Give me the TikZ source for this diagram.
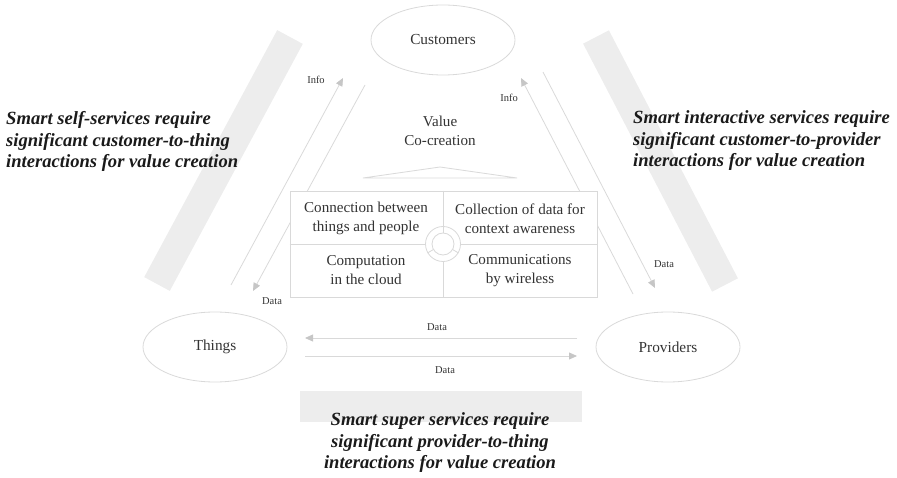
\documentclass[tikz,border=0pt]{standalone}
\usepackage{fontspec}
\setmainfont{Liberation Serif}
\usetikzlibrary{shapes.geometric, arrows.meta}
\definecolor{barc}{HTML}{EDEDED}
\definecolor{linec}{HTML}{D9D9D9}
\definecolor{headc}{HTML}{C6C6C6}
\definecolor{txtc}{HTML}{333333}
\definecolor{boldc}{HTML}{1A1A1A}
\begin{document}
\begin{tikzpicture}[x=1pt,y=-1pt,
  conn/.style={draw=linec, line width=0.8pt, -{Triangle[length=8pt,width=7pt,color=headc]}},
  ell/.style={ellipse, draw=linec, line width=0.8pt, minimum width=144pt, minimum height=70pt, inner sep=0pt, font=\fontsize{15.3}{18}\selectfont, text=txtc},
  small/.style={font=\fontsize{10.5}{12}\selectfont, text=txtc, inner sep=0pt},
  cell/.style={font=\fontsize{15.1}{19}\selectfont, text=txtc, align=center, inner sep=0pt},
  claim/.style={font=\fontsize{18.6}{21.5}\selectfont\bfseries\itshape, text=boldc, inner sep=0pt},
  thin/.style={draw=linec, line width=0.8pt}]
\useasboundingbox (0,0) rectangle (897,478);
% grey bars
\fill[barc] (277.2,30.1) -- (302.8,43.9) -- (169.8,290.9) -- (144.2,277.1) -- cycle;
\fill[barc] (583.1,43.7) -- (608.9,30.3) -- (737.9,278.3) -- (712.1,291.7) -- cycle;
\fill[barc] (300,391) rectangle (582,422);
% ellipses
\node[ell] (cust) at (443,40) {Customers};
\node[ell] (things) at (215,347) {Things};
\node[ell] (prov) at (668,347) {Providers};
% arrow end points
\coordinate (l1s) at (231,285); \coordinate (l1e) at (343,78);
\coordinate (l2s) at (365,85);  \coordinate (l2e) at (253,291);
\coordinate (r1s) at (633,294); \coordinate (r1e) at (521,78);
\coordinate (r2s) at (543,72);  \coordinate (r2e) at (655,288);
\coordinate (h1s) at (577,338); \coordinate (h1e) at (305,338);
\coordinate (h2s) at (305,356); \coordinate (h2e) at (577,356);
\draw[conn] (l1s) -- (l1e);
\draw[conn] (l2s) -- (l2e);
\draw[conn] (r1s) -- (r1e);
\draw[conn] (r2s) -- (r2e);
\draw[conn] (h1s) -- (h1e);
\draw[conn] (h2s) -- (h2e);
% central box
\node[thin, fill=white, minimum width=307pt, minimum height=106pt, inner sep=0pt] (box) at (443.5,244) {};
\draw[thin] (box.north) -- (box.south);
\draw[thin] (box.west) -- (box.east);
\node[cell] (c1) at (366,218.5) {Connection between\\things and people};
\node[cell] (c2) at (520,218.5) {Collection of data for\\context awareness};
\node[cell] (c3) at (366,270.5) {Computation\\in the cloud};
\node[cell] (c4) at (520,270.5) {Communications\\by wireless};
% cycle icon
\node[circle, thin, fill=white, minimum size=35pt, inner sep=0pt] (cyc) at (443,244) {};
\node[circle, thin, minimum size=22pt, inner sep=0pt] (cycin) at (443,244) {};
\draw[thin] (cyc.90) -- (cycin.90);
\draw[thin] (cyc.210) -- (cycin.210);
\draw[thin] (cyc.330) -- (cycin.330);
% roof
\coordinate (rfl) at (363,178); \coordinate (rft) at (440,167); \coordinate (rfr) at (517,178);
\draw[thin] (rfl) -- (rft) -- (rfr) -- cycle;
\node[cell] (value) at (440,131) {Value\\Co-creation};
% small labels
\node[small] (info1) at (316,80) {Info};
\node[small] (info2) at (509,98) {Info};
\node[small] (data1) at (272,301) {Data};
\node[small] (data2) at (664,264) {Data};
\node[small] (data3) at (437,327) {Data};
\node[small] (data4) at (445,370) {Data};
% claims
\node[claim, anchor=west, align=left] (selfs) at (6,141.5) {Smart self-services require\\significant customer-to-thing\\interactions for value creation};
\node[claim, anchor=west, align=left] (inter) at (633,141) {Smart interactive services require\\significant customer-to-provider\\interactions for value creation};
\node[claim, align=center] (super) at (440,443) {Smart super services require\\significant provider-to-thing\\interactions for value creation};
\end{tikzpicture}
\end{document}
